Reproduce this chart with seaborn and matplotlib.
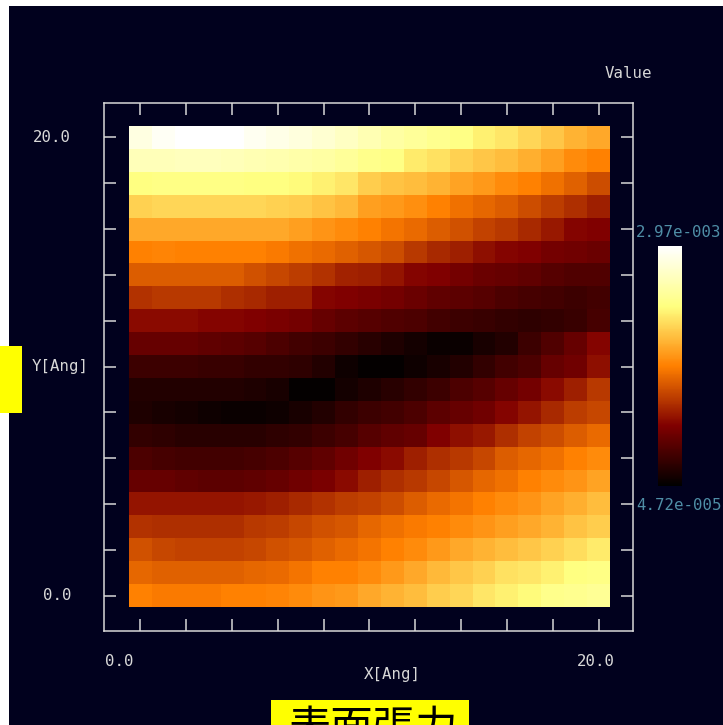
"""
Surface tension map, values read off the picture (0-1 colour fraction)
"""
import numpy as np
import matplotlib
matplotlib.use("Agg")
import matplotlib.pyplot as plt
from matplotlib.patches import Rectangle
import seaborn as sns

# rows run from the top of the map (Y=20) to the bottom (Y=0)
surface_values = [
    [.94, .98, 1.0, 1.0, 1.0, .97, .95, .93, .91, .88, .85, .82, .80, .78, .76, .72, .70, .67, .64, .60, .58],
    [.86, .86, .87, .87, .86, .85, .84, .83, .82, .80, .77, .76, .71, .69, .66, .64, .62, .59, .56, .52, .50],
    [.75, .76, .76, .76, .76, .75, .75, .74, .72, .70, .65, .63, .62, .60, .57, .55, .52, .50, .47, .44, .40],
    [.66, .67, .67, .67, .67, .67, .66, .65, .63, .61, .56, .55, .53, .50, .47, .45, .43, .40, .37, .34, .31],
    [.58, .58, .58, .58, .58, .58, .58, .56, .54, .52, .50, .48, .46, .43, .41, .38, .36, .33, .30, .26, .25],
    [.50, .51, .50, .50, .50, .50, .49, .47, .46, .44, .42, .40, .36, .33, .31, .28, .26, .25, .23, .22, .21],
    [.43, .43, .43, .43, .43, .41, .39, .37, .35, .32, .31, .29, .26, .25, .23, .21, .20, .19, .17, .16, .16],
    [.35, .36, .36, .36, .34, .33, .31, .31, .26, .25, .24, .23, .21, .19, .18, .17, .15, .14, .13, .12, .13],
    [.27, .27, .27, .26, .26, .25, .24, .23, .20, .18, .17, .16, .15, .13, .12, .11, .10, .09, .10, .11, .14],
    [.20, .20, .20, .19, .18, .17, .15, .13, .12, .10, .08, .06, .04, .02, .02, .05, .07, .12, .16, .20, .26],
    [.12, .12, .12, .11, .11, .10, .10, .09, .07, .03, .01, .01, .03, .05, .07, .10, .13, .15, .20, .22, .28],
    [.07, .07, .07, .07, .07, .06, .05, .01, .01, .04, .06, .08, .10, .12, .15, .17, .20, .23, .27, .31, .36],
    [.06, .05, .04, .03, .02, .02, .03, .05, .07, .10, .12, .13, .15, .18, .20, .22, .26, .29, .33, .37, .39],
    [.10, .09, .08, .08, .08, .08, .09, .10, .12, .14, .17, .19, .20, .25, .28, .30, .34, .38, .40, .43, .46],
    [.15, .14, .13, .13, .13, .14, .15, .17, .19, .22, .25, .27, .31, .34, .36, .39, .43, .45, .47, .50, .52],
    [.20, .20, .19, .18, .18, .19, .20, .22, .24, .27, .31, .34, .36, .39, .42, .45, .47, .50, .52, .54, .57],
    [.29, .29, .29, .29, .29, .30, .31, .33, .35, .37, .38, .40, .43, .46, .48, .50, .52, .54, .57, .59, .62],
    [.35, .34, .34, .34, .34, .36, .37, .39, .41, .42, .45, .47, .49, .50, .52, .54, .56, .58, .60, .63, .65],
    [.41, .39, .38, .38, .38, .39, .41, .42, .44, .46, .48, .50, .52, .55, .58, .60, .62, .64, .66, .68, .71],
    [.45, .44, .44, .44, .44, .45, .46, .48, .50, .50, .52, .55, .58, .61, .64, .66, .69, .70, .72, .75, .76],
    [.50, .49, .49, .49, .50, .50, .51, .52, .54, .55, .58, .60, .62, .65, .67, .70, .72, .74, .77, .78, .79],
]
x_tick_cells = [0, 2, 4, 6, 8, 10, 12, 14, 16, 18, 20]
y_tick_cells = [0, 2, 4, 6, 8, 10, 12, 14, 16, 18, 20]
value_labels = ["2.97e-003", "4.72e-005"]
title_text = "表面張力"

W, H = 723, 725
BG = "#01011e"
FG = "#d8d8d8"
TEAL = "#4f8ea6"


def px_rect(x0, y0, x1, y1):
    """Pixel box (y down) to figure coordinates"""
    return [x0 / W, 1 - y1 / H, (x1 - x0) / W, (y1 - y0) / H]


def px_text(fig, x, y, s, **kwargs):
    kwargs.setdefault("color", FG)
    kwargs.setdefault("family", "DejaVu Sans Mono")
    kwargs.setdefault("fontsize", 11.3)
    kwargs.setdefault("va", "center")
    fig.text(x / W, 1 - y / H, s, **kwargs)


def px_box(fig, x0, y0, x1, y1, color, zorder):
    l, b, w, h = px_rect(x0, y0, x1, y1)
    fig.add_artist(Rectangle((l, b), w, h, transform=fig.transFigure,
                             facecolor=color, edgecolor="none", zorder=zorder))


sns.set_style("white")
fig = plt.figure(figsize=(W / 100, H / 100), dpi=100, facecolor="white")

# dark page with the white strip left and above, yellow boxes on top
px_box(fig, 9, 6, W, H, BG, -3)
px_box(fig, 0, 346, 22, 413, "#ffff00", -2)
px_box(fig, 271, 700, 469, H, "#ffff00", -2)

ax = fig.add_axes(px_rect(104, 103, 633, 631))
cax = fig.add_axes(px_rect(658, 246, 682, 486))
sns.heatmap(np.array(surface_values), ax=ax, cmap="afmhot", vmin=0, vmax=1,
            cbar_ax=cax, cbar_kws={"ticks": []}, xticklabels=False, yticklabels=False)

# frame extends past the cells, same scale as the map
cell = 481 / 21
ax.set_xlim(-25 / cell, 21 + 23 / cell)
ax.set_ylim(21 + 24 / cell, -23 / cell)
ax.set_facecolor(BG)
ax.set_xticks([c + 0.5 for c in x_tick_cells])
ax.set_yticks([c + 0.5 for c in y_tick_cells])
ax.tick_params(which="both", direction="in", length=8.5, width=1.1, color=FG,
               top=True, bottom=True, left=True, right=True,
               labelbottom=False, labelleft=False)
for spine in ax.spines.values():
    spine.set_visible(True)
    spine.set_color(FG)
    spine.set_linewidth(1.1)
cax.set_facecolor(BG)
ax.collections[0].colorbar.outline.set_visible(False)

px_text(fig, 605, 73, "Value")
px_text(fig, 33, 138, "20.0")
px_text(fig, 43, 596, "0.0")
px_text(fig, 32, 367, "Y[Ang]")
px_text(fig, 105, 661, "0.0")
px_text(fig, 577, 661, "20.0")
px_text(fig, 364, 675, "X[Ang]")
px_text(fig, 636, 232, value_labels[0], color=TEAL)
px_text(fig, 636, 506, value_labels[1], color=TEAL)
# the title box is cut by the lower edge of the picture, as in the original
px_text(fig, 374, 729, title_text, color="black", ha="center",
        family=["Noto Sans CJK JP", "DejaVu Sans"], fontsize=30.5)

fig.savefig("out.png", dpi=100, facecolor=fig.get_facecolor())
